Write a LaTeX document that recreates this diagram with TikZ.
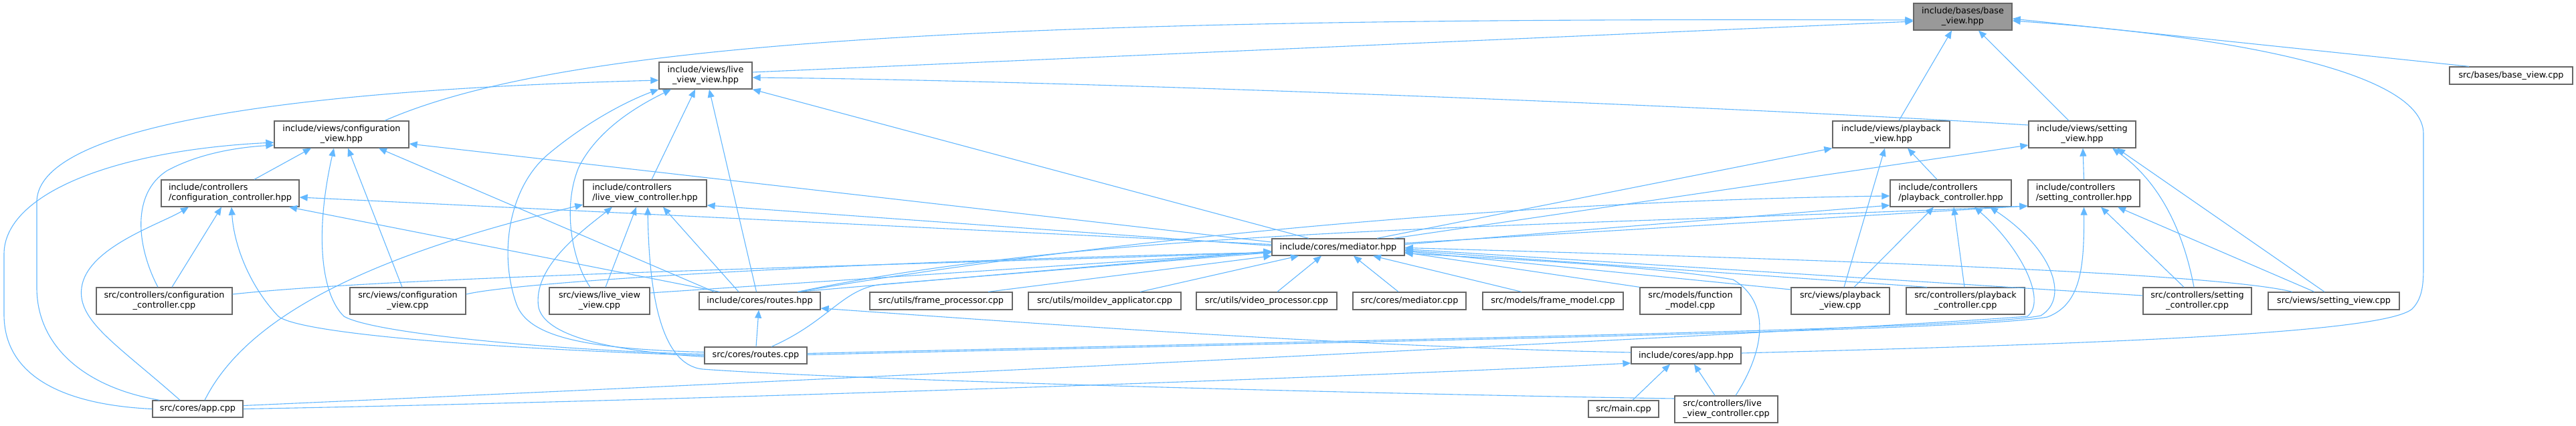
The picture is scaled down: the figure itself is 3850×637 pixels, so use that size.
\documentclass[tikz,border=0pt]{standalone}
\usepackage{fontspec}
\newfontfamily\dvs{DejaVu Sans}
\usetikzlibrary{arrows.meta}
\definecolor{eblue}{HTML}{63B8FF}
\definecolor{bgray}{HTML}{666666}
\definecolor{rootfill}{HTML}{999999}
\tikzset{
  nd/.style={draw=bgray, fill=white, line width=1.3pt, inner sep=0pt, align=center,
    font=\dvs\fontsize{12.8}{15}\selectfont},
  ndl/.style={nd, align=left},
  rootnd/.style={nd, fill=rootfill},
  one/.style={minimum height=26pt},
  two/.style={minimum height=40pt},
  edge/.style={draw=eblue, line width=1.1pt, -{Triangle[length=12pt,width=10pt]}},
}
\begin{document}
\begin{tikzpicture}[x=1pt,y=-1pt]
\fill[white] (0,0) rectangle (3850,637);
\useasboundingbox (0,0) rectangle (3850,637);

% nodes
\node[rootnd,two,minimum width=147pt] (baseh) at (2933.5,25) {include/bases/base\\\_view.hpp};
\node[nd,two,minimum width=139pt] (lvv) at (1054.5,113) {include/views/live\\\_view\_view.hpp};
\node[nd,one,minimum width=184pt] (basecpp) at (3753,113) {src/bases/base\_view.cpp};
\node[nd,two,minimum width=201pt] (cfgv) at (510.5,201) {include/views/configuration\\\_view.hpp};
\node[nd,two,minimum width=175pt] (pbv) at (2826.5,201) {include/views/playback\\\_view.hpp};
\node[nd,two,minimum width=160pt] (stv) at (3112,201) {include/views/setting\\\_view.hpp};
\node[ndl,two,minimum width=206pt] (cfgc) at (344,289) {include/controllers\\/configuration\_controller.hpp};
\node[ndl,two,minimum width=184pt] (lvc) at (964,289) {include/controllers\\/live\_view\_controller.hpp};
\node[ndl,two,minimum width=181pt] (pbc) at (2915.5,289) {include/controllers\\/playback\_controller.hpp};
\node[ndl,two,minimum width=167pt] (stc) at (3114.5,289) {include/controllers\\/setting\_controller.hpp};
\node[nd,one,minimum width=198pt,minimum height=25pt] (med) at (2000,369.5) {include/cores/mediator.hpp};
\node[nd,two,minimum width=203pt] (cfgccpp) at (245.5,450) {src/controllers/configuration\\\_controller.cpp};
\node[nd,two,minimum width=173pt] (cfgvcpp) at (609.5,450) {src/views/configuration\\\_view.cpp};
\node[nd,two,minimum width=150pt] (lvvcpp) at (896,450) {src/views/live\_view\\\_view.cpp};
\node[nd,one,minimum width=181pt] (routesh) at (1135.5,450) {include/cores/routes.hpp};
\node[nd,one,minimum width=213pt] (fproc) at (1406.5,450) {src/utils/frame\_processor.cpp};
\node[nd,one,minimum width=228pt] (moil) at (1651,450) {src/utils/moildev\_applicator.cpp};
\node[nd,one,minimum width=210pt] (vproc) at (1893,450) {src/utils/video\_processor.cpp};
\node[nd,one,minimum width=169pt] (medcpp) at (2106.5,450) {src/cores/mediator.cpp};
\node[nd,one,minimum width=210pt] (fmodel) at (2321,450) {src/models/frame\_model.cpp};
\node[nd,two,minimum width=151pt] (funcm) at (2526.5,450) {src/models/function\\\_model.cpp};
\node[nd,two,minimum width=147pt] (pbvcpp) at (2750.5,450) {src/views/playback\\\_view.cpp};
\node[nd,two,minimum width=177pt] (pbccpp) at (2937.5,450) {src/controllers/playback\\\_controller.cpp};
\node[nd,two,minimum width=162pt] (stccpp) at (3284,450) {src/controllers/setting\\\_controller.cpp};
\node[nd,one,minimum width=196pt] (stvcpp) at (3488,450) {src/views/setting\_view.cpp};
\node[nd,one,minimum width=153pt,minimum height=25pt] (routescpp) at (1129.5,531.5) {src/cores/routes.cpp};
\node[nd,one,minimum width=164pt,minimum height=25pt] (apph) at (2520,531.5) {include/cores/app.hpp};
\node[nd,one,minimum width=135pt,minimum height=25pt] (appcpp) at (295.5,611.5) {src/cores/app.cpp};
\node[nd,one,minimum width=105pt,minimum height=25pt] (maincpp) at (2426.5,611.5) {src/main.cpp};
\node[ndl,two,minimum width=154pt] (lvccpp) at (2580,612) {src/controllers/live\\\_view\_controller.cpp};

% edges to base_view.hpp
\draw[edge] ([xshift=64.5pt]cfgv.north) .. controls (850,60) and (1500,25) .. ([yshift=-5pt]baseh.west);
\draw[edge] ([yshift=5pt]lvv.east) -- ([yshift=-7pt]baseh.west);
\draw[edge] ([xshift=11.5pt]pbv.north) -- ([xshift=-16.5pt]baseh.south);
\draw[edge] ([xshift=-20pt]stv.north) -- ([xshift=23.5pt]baseh.south);
\draw[edge] ([xshift=-63pt]basecpp.north) -- ([yshift=-3pt]baseh.east);
\draw[edge] ([yshift=3.5pt]apph.east) .. controls (3100,515) and (3560,500) .. (3605,462)
   .. controls (3622,445) and (3622,420) .. (3622,395) -- (3622,200)
   .. controls (3622,110) and (3350,55) .. ([yshift=-6pt]baseh.east);

% edges to live_view_view.hpp
\draw[edge] ([xshift=-57pt]appcpp.north) .. controls (130,580) and (55,520) .. (55,430) -- (55,300)
   .. controls (60,190) and (420,135) .. ([yshift=-7pt]lvv.west);
\draw[edge] ([yshift=5pt]routescpp.west) .. controls (880,522) and (790,505) .. (772,455)
   .. controls (745,380) and (760,280) .. (820,230) .. controls (880,180) and (940,150) .. (lvv.south west);
\draw[edge] ([xshift=-14pt]lvvcpp.north) .. controls (855,390) and (840,310) .. (865,250)
   .. controls (895,190) and (960,155) .. ([xshift=-51.5pt]lvv.south);
\draw[edge] ([xshift=10pt]lvc.north) -- ([xshift=-15.5pt]lvv.south);
\draw[edge] ([xshift=-5pt]routesh.north) -- ([xshift=5.5pt]lvv.south);
\draw[edge] ([xshift=-44pt]med.north) -- (lvv.south east);
\draw[edge] ([yshift=14pt]stv.west) .. controls (2600,160) and (1600,120) .. ([yshift=-3pt]lvv.east);

% edges to configuration_view.hpp
\draw[edge] (appcpp.west) .. controls (90,605) and (6,560) .. (6,470) -- (6,380)
   .. controls (6,290) and (170,225) .. ([yshift=-12pt]cfgv.west);
\draw[edge] ([xshift=-9.5pt]cfgccpp.north) .. controls (205,370) and (195,290) .. (250,255)
   .. controls (300,228) and (360,220) .. ([yshift=-16pt]cfgv.west);
\draw[edge] ([xshift=36pt]cfgc.north) -- ([xshift=-45.5pt]cfgv.south);
\draw[edge] ([yshift=2pt]routescpp.west) .. controls (850,525) and (560,500) .. (514,473)
   .. controls (480,440) and (470,350) .. ([xshift=-11.5pt]cfgv.south);
\draw[edge] ([xshift=-8.5pt]cfgvcpp.north) -- ([xshift=9.5pt]cfgv.south);
\draw[edge] ([xshift=-68pt]routesh.north) -- ([xshift=55.5pt]cfgv.south);
\draw[edge] ([yshift=7.5pt]med.west) -- ([yshift=-14pt]cfgv.east);

% edges to configuration_controller.hpp
\draw[edge] ([yshift=4pt]med.west) -- ([yshift=-6pt]cfgc.east);
\draw[edge] ([xshift=-26.5pt]appcpp.north) .. controls (175,515) and (115,480) .. (122,430)
   .. controls (130,370) and (240,335) .. ([xshift=-62pt]cfgc.south);
\draw[edge] ([xshift=11.5pt]cfgccpp.north) -- ([xshift=-13pt]cfgc.south);
\draw[edge] (routescpp.west) .. controls (750,522) and (450,500) .. (416,473)
   .. controls (375,430) and (350,370) .. ([xshift=2pt]cfgc.south);
\draw[edge] ([xshift=-60pt]routesh.north) -- ([xshift=88pt]cfgc.south);

% edges to live_view_controller.hpp
\draw[edge] ([xshift=10.5pt]appcpp.north) .. controls (370,470) and (560,380) .. ([yshift=-17pt]lvc.west);
\draw[edge] ([yshift=2pt]med.west) -- ([yshift=-18pt]lvc.east);
\draw[edge] ([yshift=-2pt]routescpp.west) .. controls (900,524) and (815,500) .. (805,460)
   .. controls (795,400) and (870,345) .. ([xshift=-49pt]lvc.south);
\draw[edge] ([xshift=9pt]lvvcpp.north) -- ([xshift=-13pt]lvc.south);
\draw[edge] ([xshift=-31.5pt]routesh.north) -- ([xshift=27pt]lvc.south);
\draw[edge] ([yshift=16pt]lvccpp.west) .. controls (2100,590) and (1300,570) .. (1050,552)
   .. controls (985,545) and (970,430) .. ([xshift=4pt]lvc.south);

% edges to mediator.hpp
\draw[edge] ([xshift=57pt]routesh.north) -- ([yshift=-6pt]med.west);
\draw[edge] ([xshift=23.5pt]routescpp.north) .. controls (1240,480) and (1260,430) .. (1320,425)
   -- ([yshift=-8pt]med.west);
\draw[edge] ([yshift=10pt]cfgccpp.east) .. controls (600,412) and (1400,395) .. ([yshift=-8pt]med.west);
\draw[edge] ([yshift=10pt]cfgvcpp.east) .. controls (780,420) and (1300,390) .. ([yshift=-8pt]med.west);
\draw[edge] ([yshift=12pt]lvvcpp.east) -- ([yshift=-7pt]med.west);
\draw[edge] ([xshift=70.5pt]fproc.north) -- (med.south west);
\draw[edge] ([xshift=53pt]moil.north) -- ([xshift=-59pt]med.south);
\draw[edge] ([xshift=16pt]vproc.north) -- ([xshift=-25pt]med.south);
\draw[edge] ([xshift=-16.5pt]medcpp.north) -- ([xshift=23pt]med.south);
\draw[edge] ([xshift=-47pt]fmodel.north) -- ([xshift=52pt]med.south);
\draw[edge] (funcm.north west) -- ([yshift=-8pt]med.east);
\draw[edge] ([yshift=17pt]pbvcpp.west) -- ([yshift=-6pt]med.east);
\draw[edge] ([xshift=-57.5pt]pbccpp.north) -- ([yshift=-5pt]med.east);
\draw[edge] ([yshift=8pt]stccpp.west) -- ([yshift=-3pt]med.east);
\draw[edge] ([xshift=-62pt]stvcpp.north) .. controls (3300,405) and (2600,385) .. ([yshift=-1pt]med.east);
\draw[edge] ([xshift=14pt]lvccpp.north) .. controls (2640,520) and (2645,450) .. (2590,418)
   .. controls (2450,395) and (2200,385) .. ([yshift=-9pt]med.east);

% mediator -> right side headers
\draw[edge] ([yshift=4pt]med.east) -- ([yshift=-18pt]pbc.west);
\draw[edge] ([yshift=6pt]med.east) -- ([yshift=-19pt]stc.west);
\draw[edge] ([xshift=58pt]med.north) -- (pbv.south west);
\draw[edge] ([xshift=83pt]med.north) -- ([yshift=-16pt]stv.west);

% routes -> right side controllers
\draw[edge] ([xshift=57pt]routesh.north) .. controls (1700,350) and (2300,300) .. ([yshift=-4pt]pbc.west);
\draw[edge] ([xshift=57pt]routesh.north) .. controls (1650,340) and (2300,340) .. ([yshift=-19pt]stc.west);
\draw[edge] ([yshift=3pt]routescpp.east) .. controls (2200,505) and (2950,492) .. (3050,472)
   .. controls (3095,445) and (3065,370) .. ([xshift=58.5pt]pbc.south);
\draw[edge] ([yshift=5pt]appcpp.east) .. controls (1300,565) and (2800,492) .. (3030,473)
   .. controls (3060,450) and (3020,370) .. ([xshift=35.5pt]pbc.south);
\draw[edge] ([yshift=1pt]routescpp.east) .. controls (2200,507) and (2950,494) .. (3060,474)
   .. controls (3110,455) and (3115,400) .. (stc.south);

% playback
\draw[edge] ([xshift=5.5pt]pbvcpp.north) -- ([xshift=-9.5pt]pbv.south);
\draw[edge] ([xshift=-20.5pt]pbc.north) -- ([xshift=24.5pt]pbv.south);
\draw[edge] ([xshift=20.5pt]pbvcpp.north) -- ([xshift=-25.5pt]pbc.south);
\draw[edge] ([xshift=-1.5pt]pbccpp.north) -- ([xshift=4.5pt]pbc.south);

% setting
\draw[edge] (stc.north) -- ([xshift=1pt]stv.south);
\draw[edge] ([xshift=-5pt]stccpp.north) .. controls (3262,340) and (3225,270) .. ([xshift=45pt]stv.south);
\draw[edge] ([xshift=-14pt]stvcpp.north) -- ([xshift=52pt]stv.south);
\draw[edge] ([xshift=-20pt]stccpp.north) -- ([xshift=25.5pt]stc.south);
\draw[edge] ([xshift=-29pt]stvcpp.north) -- ([xshift=50.5pt]stc.south);

% app / routes
\draw[edge] (appcpp.east) .. controls (1000,600) and (2000,565) .. ([yshift=-11.5pt]apph.west);
\draw[edge] ([xshift=13.5pt]maincpp.north) -- ([xshift=-24pt]apph.south);
\draw[edge] ([xshift=-17pt]lvccpp.north) -- ([xshift=12pt]apph.south);
\draw[edge] ([xshift=0.5pt]routescpp.north) -- ([xshift=-1.5pt]routesh.south);
\draw[edge] ([yshift=4.5pt]apph.west) .. controls (2000,518) and (1500,480) .. ([yshift=-11pt]routesh.east);
\end{tikzpicture}
\end{document}
